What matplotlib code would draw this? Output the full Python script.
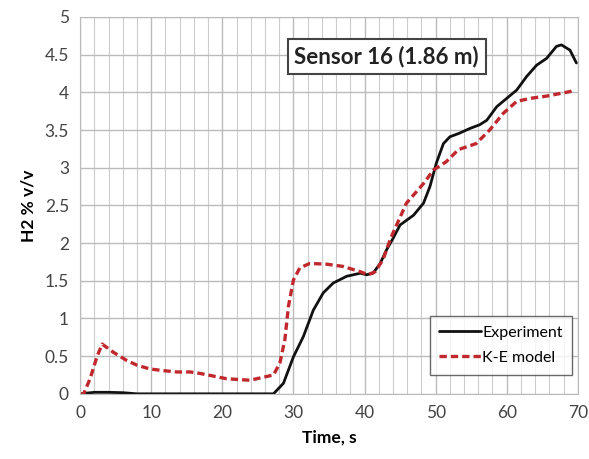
import matplotlib.pyplot as plt
import numpy as np

# Experiment (solid black)
exp_t = [0, 2, 4, 6, 8, 12, 20, 25.3, 27.2, 28.6, 30.0, 31.4, 32.8, 34.2, 35.6, 37.5, 39.4, 40.3, 41.2, 42.2,
         43.1, 44.0, 45.0, 46.9, 48.3, 49.2, 50.1, 51.1, 52.0, 53.4, 54.8, 56.2, 57.2, 58.6, 60.0, 61.4, 62.8,
         64.2, 65.6, 67.0, 67.7, 68.9, 69.8]
exp_v = [0.0, 0.02, 0.02, 0.015, 0.0, 0.0, 0.0, 0.0, 0.0, 0.14, 0.49, 0.76, 1.11, 1.34, 1.47, 1.56, 1.60,
         1.58, 1.60, 1.73, 1.91, 2.06, 2.24, 2.37, 2.53, 2.75, 3.06, 3.32, 3.41, 3.46, 3.52, 3.57, 3.63, 3.81,
         3.92, 4.03, 4.21, 4.36, 4.45, 4.61, 4.63, 4.56, 4.39]

# K-E model (dashed red)
ke_t = [0, 0.5, 1.4, 2.4, 3.1, 4.7, 6.6, 8, 9.8, 11.5, 13.6, 15.5, 16.9, 18.5, 20.6, 22.3, 23.9, 25.3, 27.2,
        28.1, 28.8, 29.3, 30.0, 30.9, 32.3, 34.7, 37.0, 39.4, 40.5, 41.5, 42.6, 43.7, 45.9, 48.3, 49.7, 51.5,
        53.2, 55.7, 57.6, 59.5, 61.4, 63.3, 65.6, 68.9, 69.4]
ke_v = [0.0, 0.0, 0.2, 0.5, 0.66, 0.55, 0.44, 0.38, 0.33, 0.31, 0.29, 0.29, 0.27, 0.24, 0.2, 0.19, 0.18, 0.21,
        0.25, 0.41, 0.72, 1.16, 1.51, 1.67, 1.73, 1.72, 1.69, 1.62, 1.58, 1.62, 1.78, 2.07, 2.53, 2.79, 2.97,
        3.08, 3.24, 3.32, 3.50, 3.72, 3.88, 3.92, 3.95, 4.01, 4.03]

x_ticks = [0, 10, 20, 30, 40, 50, 60, 70]
y_ticks = [0, 0.5, 1, 1.5, 2, 2.5, 3, 3.5, 4, 4.5, 5]
y_labels = ["0", "0.5", "1", "1.5", "2", "2.5", "3", "3.5", "4", "4.5", "5"]

plt.rcParams['font.family'] = ['Lato', 'DejaVu Sans']

fig = plt.figure(figsize=(5.89, 4.59), dpi=100)
ax = fig.add_axes([0.136, 0.142, 0.845, 0.821])

ax.plot(exp_t, exp_v, color="#111111", lw=2, label="Experiment",
        solid_joinstyle="round", solid_capstyle="round")
ax.plot(ke_t, ke_v, color="#c0282d", lw=2.4, ls=(0, (2.2, 1.2)), label="K-E model",
        dash_joinstyle="round")

ax.set_xlim(0, 70)
ax.set_ylim(0, 5)
ax.set_xticks(x_ticks)
ax.set_xticks(np.arange(0, 71, 2), minor=True)
ax.set_yticks(y_ticks)
ax.set_yticklabels(y_labels)
ax.tick_params(which="both", length=0, labelsize=12.5, colors="#444444", pad=8)
ax.grid(True, which="major", color="#bbbbbb", lw=1.0)
ax.grid(True, which="minor", axis="x", color="#cccccc", lw=0.8)
for s in ax.spines.values():
    s.set_color("#bbbbbb")
ax.set_axisbelow(True)

ax.set_xlabel("Time, s", fontsize=12.5, fontweight="bold", labelpad=6)
ax.set_ylabel("H2 % v/v", fontsize=12.5, fontweight="bold", labelpad=6)

ax.text(0.616, 0.896, "Sensor 16 (1.86 m)", transform=ax.transAxes, ha="center", va="center",
        fontsize=16, fontweight="bold", color="#222222",
        bbox=dict(boxstyle="square,pad=0.3", facecolor="white", edgecolor="#444444", lw=1.5))

leg = ax.legend(loc="lower right", bbox_to_anchor=(1.005, 0.03), fontsize=11.5, frameon=True, fancybox=False,
                edgecolor="#444444", handlelength=2.6, handletextpad=0.1, borderpad=0.6, labelspacing=0.7)
leg.get_frame().set_linewidth(1.0)

plt.savefig("out.png", dpi=100)
